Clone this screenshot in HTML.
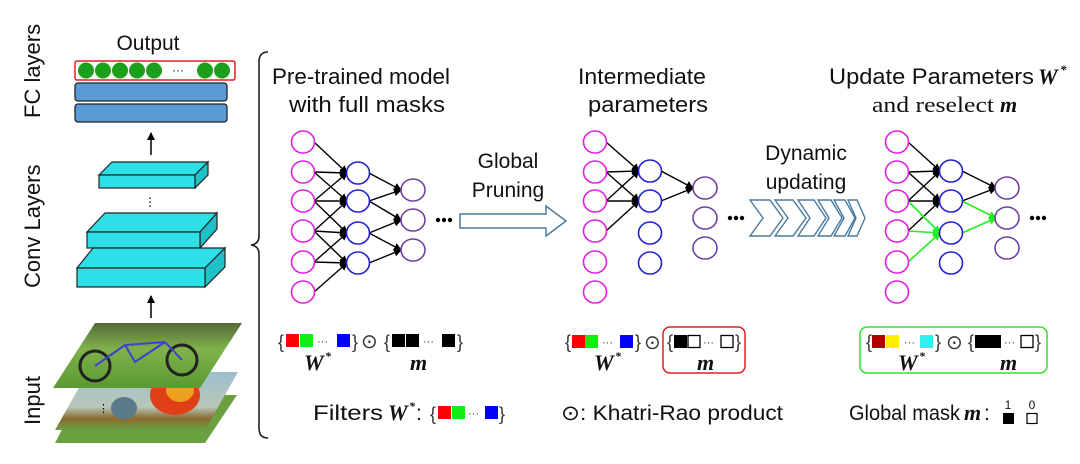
<!DOCTYPE html>
<html><head><meta charset="utf-8"><style>
html,body{margin:0;padding:0;background:#fff}
svg{display:block}
.s{font-family:"Liberation Sans Narrow","Liberation Sans",sans-serif;fill:#111}
.it{font-family:"Liberation Serif",serif;font-style:italic;font-weight:bold;fill:#111}
</style></head><body>
<svg width="1080" height="464" viewBox="0 0 1080 464" xmlns="http://www.w3.org/2000/svg">
<defs>
<marker id="ah" markerWidth="8" markerHeight="8" refX="7" refY="4" orient="auto" markerUnits="userSpaceOnUse"><path d="M0,0 L8,4 L0,8 z" fill="#000"/></marker>
<marker id="ag" markerWidth="8" markerHeight="8" refX="7" refY="4" orient="auto" markerUnits="userSpaceOnUse"><path d="M0,0 L8,4 L0,8 z" fill="#22ee22"/></marker>
<linearGradient id="g1" x1="0" y1="0" x2="0" y2="1"><stop offset="0" stop-color="#556b3a"/><stop offset="0.4" stop-color="#7fb24a"/><stop offset="1" stop-color="#5a9a30"/></linearGradient>
<linearGradient id="g2" x1="0" y1="0" x2="0" y2="1"><stop offset="0" stop-color="#9cc0cf"/><stop offset="0.6" stop-color="#b8c7b8"/><stop offset="0.8" stop-color="#8a6a30"/><stop offset="1" stop-color="#6aa040"/></linearGradient>
</defs>

<text class="s" font-size="22" transform="translate(40,118) rotate(-90)">FC layers</text>
<text class="s" font-size="22" transform="translate(40,288) rotate(-90)">Conv Layers</text>
<text class="s" font-size="22" transform="translate(40,425) rotate(-90)">Input</text>

<text class="s" font-size="21" x="148" y="50" text-anchor="middle">Output</text>
<rect x="75" y="61" width="160" height="19" rx="2" fill="#fff" stroke="#e02020" stroke-width="1.5"/>
<g fill="#1aa01a"><circle cx="86" cy="70.5" r="8"/><circle cx="103" cy="70.5" r="8"/><circle cx="120" cy="70.5" r="8"/><circle cx="137" cy="70.5" r="8"/><circle cx="154" cy="70.5" r="8"/><circle cx="205" cy="70.5" r="8"/><circle cx="222" cy="70.5" r="8"/></g>
<text x="178" y="74" font-size="12" font-family="Liberation Sans" text-anchor="middle">···</text>
<rect x="75" y="83" width="152" height="18" rx="3" fill="#5b9bd5" stroke="#222" stroke-width="1.3"/>
<rect x="75" y="104" width="152" height="18" rx="3" fill="#5b9bd5" stroke="#222" stroke-width="1.3"/>
<line x1="151" y1="155" x2="151" y2="133" stroke="#000" stroke-width="1.5" marker-end="url(#ah)"/>

<g fill="#2de0e8" stroke="#222" stroke-width="1.2">
<path d="M99,175 L112,162 L208,162 L195,175 z"/><path d="M195,175 L208,162 L208,175 L195,188 z" fill="#1fc0c8"/><rect x="99" y="175" width="96" height="13"/>
<path d="M87,232 L105,213 L217,213 L200,232 z"/><path d="M200,232 L217,213 L217,229 L200,248 z" fill="#1fc0c8"/><rect x="87" y="232" width="113" height="16"/>
<path d="M77,268 L93,248 L225,248 L205,268 z"/><path d="M205,268 L225,248 L225,267 L205,287 z" fill="#1fc0c8"/><rect x="77" y="268" width="128" height="19"/>
</g>
<text x="150" y="206" font-size="12" text-anchor="middle" font-family="Liberation Sans">⋮</text>
<line x1="151" y1="318" x2="151" y2="296" stroke="#000" stroke-width="1.5" marker-end="url(#ah)"/>

<path d="M55,443 L80,395 L237,395 L205,443 z" fill="#6aa040"/>
<path d="M55,430 L88,372 L238,372 L205,430 z" fill="url(#g2)"/>
<ellipse cx="175" cy="395" rx="25" ry="20" fill="#e04018"/><ellipse cx="180" cy="390" rx="14" ry="12" fill="#f0a020"/>
<ellipse cx="124" cy="408" rx="13" ry="11" fill="#5a7a8a"/>
<text x="98" y="412" font-size="11" font-family="Liberation Sans">⋮</text>
<path d="M53,388 L95,323 L242,323 L200,388 z" fill="url(#g1)"/>
<circle cx="95" cy="366" r="15" fill="none" stroke="#222" stroke-width="3"/>
<circle cx="182" cy="360" r="15" fill="none" stroke="#222" stroke-width="3"/>
<path d="M95,366 L125,345 L165,342 L182,360 M125,345 L135,362 L165,342" fill="none" stroke="#4040d0" stroke-width="2"/>

<path d="M268,52 Q259,52 259,62 L259,236 Q259,244 251,245 Q259,246 259,254 L259,428 Q259,438 268,438" fill="none" stroke="#222" stroke-width="1.6"/>

<text class="s" font-size="22" x="361" y="84" text-anchor="middle" textLength="178" lengthAdjust="spacingAndGlyphs">Pre-trained model</text>
<text class="s" font-size="22" x="367" y="112" text-anchor="middle" textLength="156" lengthAdjust="spacingAndGlyphs">with full masks</text>
<text class="s" font-size="22" x="642" y="84" text-anchor="middle" textLength="128" lengthAdjust="spacingAndGlyphs">Intermediate</text>
<text class="s" font-size="22" x="648" y="112" text-anchor="middle" textLength="120" lengthAdjust="spacingAndGlyphs">parameters</text>
<text class="s" font-size="22" x="829" y="84" textLength="205" lengthAdjust="spacingAndGlyphs">Update Parameters</text>
<text class="it" font-size="22" x="1038" y="84">W</text><text class="it" font-size="13" x="1060" y="74">*</text>
<text font-family="Liberation Serif" font-size="22" x="872" y="112" fill="#111" textLength="122" lengthAdjust="spacingAndGlyphs">and reselect</text>
<text class="it" font-size="22" x="1000" y="112">m</text>

<text class="s" font-size="21" x="508" y="168" text-anchor="middle">Global</text>
<text class="s" font-size="21" x="508" y="197" text-anchor="middle">Pruning</text>
<path d="M460,214 L546,214 L546,206 L566,221 L546,236 L546,228 L460,228 z" fill="#fff" stroke="#4a7aa0" stroke-width="1.5"/>

<text class="s" font-size="21" x="806" y="160" text-anchor="middle">Dynamic</text>
<text class="s" font-size="21" x="806" y="189" text-anchor="middle">updating</text>
<g fill="#fff" stroke="#4a7aa0" stroke-width="1.4">
<path d="M750,200 L770,200 L783,218 L770,236 L750,236 L763,218 z"/>
<path d="M775,200 L793,200 L806,218 L793,236 L775,236 L788,218 z"/>
<path d="M798,200 L814,200 L826,218 L814,236 L798,236 L810,218 z"/>
<path d="M818,200 L831,200 L842,218 L831,236 L818,236 L829,218 z"/>
<path d="M834,200 L845,200 L855,218 L845,236 L834,236 L844,218 z"/>
<path d="M848,200 L857,200 L865,218 L857,236 L848,236 L856,218 z"/>
</g>

<g fill="none" stroke-width="1.6">
<g stroke="#000" stroke-width="1.4">
<line x1="314" y1="142" x2="347" y2="173" marker-end="url(#ah)"/>
<line x1="314" y1="172" x2="347" y2="173" marker-end="url(#ah)"/>
<line x1="314" y1="172" x2="347" y2="201" marker-end="url(#ah)"/>
<line x1="314" y1="201" x2="347" y2="173" marker-end="url(#ah)"/>
<line x1="314" y1="201" x2="347" y2="201" marker-end="url(#ah)"/>
<line x1="314" y1="201" x2="347" y2="233" marker-end="url(#ah)"/>
<line x1="314" y1="231" x2="347" y2="201" marker-end="url(#ah)"/>
<line x1="314" y1="231" x2="347" y2="233" marker-end="url(#ah)"/>
<line x1="314" y1="231" x2="347" y2="263" marker-end="url(#ah)"/>
<line x1="314" y1="262" x2="347" y2="233" marker-end="url(#ah)"/>
<line x1="314" y1="262" x2="347" y2="263" marker-end="url(#ah)"/>
<line x1="314" y1="292" x2="347" y2="263" marker-end="url(#ah)"/>
<line x1="369" y1="173" x2="401" y2="190" marker-end="url(#ah)"/>
<line x1="369" y1="201" x2="401" y2="190" marker-end="url(#ah)"/>
<line x1="369" y1="201" x2="401" y2="220" marker-end="url(#ah)"/>
<line x1="369" y1="233" x2="401" y2="220" marker-end="url(#ah)"/>
<line x1="369" y1="233" x2="401" y2="250" marker-end="url(#ah)"/>
<line x1="369" y1="263" x2="401" y2="250" marker-end="url(#ah)"/>
<line x1="606" y1="142" x2="639" y2="171" marker-end="url(#ah)"/>
<line x1="606" y1="172" x2="639" y2="171" marker-end="url(#ah)"/>
<line x1="606" y1="172" x2="639" y2="201" marker-end="url(#ah)"/>
<line x1="606" y1="201" x2="639" y2="171" marker-end="url(#ah)"/>
<line x1="606" y1="201" x2="639" y2="201" marker-end="url(#ah)"/>
<line x1="606" y1="231" x2="639" y2="201" marker-end="url(#ah)"/>
<line x1="661" y1="171" x2="693" y2="188" marker-end="url(#ah)"/>
<line x1="661" y1="201" x2="693" y2="188" marker-end="url(#ah)"/>
<line x1="908" y1="142" x2="940" y2="171" marker-end="url(#ah)"/>
<line x1="908" y1="172" x2="940" y2="171" marker-end="url(#ah)"/>
<line x1="908" y1="172" x2="940" y2="201" marker-end="url(#ah)"/>
<line x1="908" y1="201" x2="940" y2="171" marker-end="url(#ah)"/>
<line x1="908" y1="201" x2="940" y2="201" marker-end="url(#ah)"/>
<line x1="908" y1="231" x2="940" y2="201" marker-end="url(#ah)"/>
<line x1="962" y1="171" x2="996" y2="188" marker-end="url(#ah)"/>
<line x1="962" y1="201" x2="996" y2="188" marker-end="url(#ah)"/>
</g>
<g stroke="#22ee22" stroke-width="1.6">
<line x1="908" y1="201" x2="940" y2="233" marker-end="url(#ag)"/>
<line x1="908" y1="231" x2="940" y2="233" marker-end="url(#ag)"/>
<line x1="908" y1="262" x2="940" y2="233" marker-end="url(#ag)"/>
<line x1="962" y1="201" x2="996" y2="218" marker-end="url(#ag)"/>
<line x1="962" y1="233" x2="996" y2="218" marker-end="url(#ag)"/>
</g>
<g stroke="#e020e0" fill="#fff">
<ellipse cx="303" cy="142" rx="11.5" ry="11"/><ellipse cx="303" cy="172" rx="11.5" ry="11"/><ellipse cx="303" cy="201" rx="11.5" ry="11"/><ellipse cx="303" cy="231" rx="11.5" ry="11"/><ellipse cx="303" cy="262" rx="11.5" ry="11"/><ellipse cx="303" cy="292" rx="11.5" ry="11"/>
<ellipse cx="595" cy="142" rx="11.5" ry="11"/><ellipse cx="595" cy="172" rx="11.5" ry="11"/><ellipse cx="595" cy="201" rx="11.5" ry="11"/><ellipse cx="595" cy="231" rx="11.5" ry="11"/><ellipse cx="595" cy="262" rx="11.5" ry="11"/><ellipse cx="595" cy="292" rx="11.5" ry="11"/>
<ellipse cx="897" cy="142" rx="11.5" ry="11"/><ellipse cx="897" cy="172" rx="11.5" ry="11"/><ellipse cx="897" cy="201" rx="11.5" ry="11"/><ellipse cx="897" cy="231" rx="11.5" ry="11"/><ellipse cx="897" cy="262" rx="11.5" ry="11"/><ellipse cx="897" cy="292" rx="11.5" ry="11"/>
</g>
<g stroke="#2020d0" fill="#fff">
<ellipse cx="358" cy="173" rx="11.5" ry="11"/><ellipse cx="358" cy="201" rx="11.5" ry="11"/><ellipse cx="358" cy="233" rx="11.5" ry="11"/><ellipse cx="358" cy="263" rx="11.5" ry="11"/>
<ellipse cx="650" cy="171" rx="11.5" ry="11"/><ellipse cx="650" cy="201" rx="11.5" ry="11"/><ellipse cx="650" cy="233" rx="11.5" ry="11"/><ellipse cx="650" cy="263" rx="11.5" ry="11"/>
<ellipse cx="951" cy="171" rx="11.5" ry="11"/><ellipse cx="951" cy="201" rx="11.5" ry="11"/><ellipse cx="951" cy="233" rx="11.5" ry="11"/><ellipse cx="951" cy="263" rx="11.5" ry="11"/>
</g>
<g stroke="#7040a0" fill="#fff">
<ellipse cx="413" cy="190" rx="12" ry="11"/><ellipse cx="413" cy="220" rx="12" ry="11"/><ellipse cx="413" cy="250" rx="12" ry="11"/>
<ellipse cx="705" cy="188" rx="12" ry="11"/><ellipse cx="705" cy="218" rx="12" ry="11"/><ellipse cx="705" cy="248" rx="12" ry="11"/>
<ellipse cx="1007" cy="188" rx="12" ry="11"/><ellipse cx="1007" cy="218" rx="12" ry="11"/><ellipse cx="1007" cy="248" rx="12" ry="11"/>
</g>
</g>
<g fill="#000"><circle cx="438" cy="220" r="2.2"/><circle cx="444" cy="220" r="2.2"/><circle cx="450" cy="220" r="2.2"/>
<circle cx="730" cy="218" r="2.2"/><circle cx="736" cy="218" r="2.2"/><circle cx="742" cy="218" r="2.2"/>
<circle cx="1032" cy="218" r="2.2"/><circle cx="1038" cy="218" r="2.2"/><circle cx="1044" cy="218" r="2.2"/></g>

<g font-family="Liberation Sans" font-size="18" fill="#333">
<text x="278" y="348">{</text><rect x="286" y="334" width="13" height="13" fill="#f00"/><rect x="300" y="334" width="13" height="13" fill="#1e1"/><text x="317" y="345" font-size="11">···</text><rect x="337" y="334" width="13" height="13" fill="#00f"/><text x="352" y="348">}</text>
<text x="361" y="348" font-size="20">⊙</text>
<text x="384" y="348">{</text><rect x="392" y="334" width="13" height="13" fill="#000"/><rect x="406" y="334" width="13" height="13" fill="#000"/><text x="423" y="345" font-size="11">···</text><rect x="442" y="334" width="13" height="13" fill="#000"/><text x="457" y="348">}</text>
<text x="565" y="348">{</text><rect x="572" y="335" width="13" height="13" fill="#f00"/><rect x="585" y="335" width="13" height="13" fill="#1e1"/><text x="602" y="346" font-size="11">···</text><rect x="620" y="335" width="13" height="13" fill="#00f"/><text x="635" y="348">}</text>
<text x="644" y="349" font-size="20">⊙</text>
<rect x="663" y="327" width="82" height="46" rx="7" fill="none" stroke="#e02020" stroke-width="1.5"/>
<text x="667" y="348">{</text><rect x="674" y="335" width="13" height="13" fill="#000"/><rect x="688" y="335.5" width="12" height="12" fill="none" stroke="#000" stroke-width="1.3"/><text x="703" y="346" font-size="11">···</text><rect x="721" y="335.5" width="12" height="12" fill="none" stroke="#000" stroke-width="1.3"/><text x="735" y="348">}</text>
<rect x="860" y="327" width="187" height="46" rx="7" fill="none" stroke="#33e033" stroke-width="1.5"/>
<text x="866" y="348">{</text><rect x="872" y="335" width="13" height="13" fill="#b00000"/><rect x="886" y="335" width="13" height="13" fill="#ffee00"/><text x="904" y="346" font-size="11">···</text><rect x="920" y="335" width="13" height="13" fill="#33eeee"/><text x="935" y="348">}</text>
<text x="946" y="349" font-size="20">⊙</text>
<text x="968" y="348">{</text><rect x="975" y="335" width="13" height="13" fill="#000"/><rect x="988" y="335" width="13" height="13" fill="#000"/><text x="1004" y="346" font-size="11">···</text><rect x="1021" y="335.5" width="12" height="12" fill="none" stroke="#000" stroke-width="1.3"/><text x="1035" y="348">}</text>
</g>
<text class="it" font-size="22" x="304" y="370">W</text><text class="it" font-size="12" x="325" y="360">*</text>
<text class="it" font-size="22" x="410" y="370">m</text>
<text class="it" font-size="22" x="594" y="370">W</text><text class="it" font-size="12" x="615" y="360">*</text>
<text class="it" font-size="22" x="697" y="370">m</text>
<text class="it" font-size="22" x="898" y="370">W</text><text class="it" font-size="12" x="919" y="360">*</text>
<text class="it" font-size="22" x="1000" y="370">m</text>

<text class="s" font-size="21" x="313" y="420" textLength="70" lengthAdjust="spacingAndGlyphs">Filters</text>
<text class="it" font-size="22" x="388" y="420">W</text><text class="it" font-size="12" x="409" y="410">*</text><text class="s" font-size="21" x="416" y="420">:</text>
<g font-family="Liberation Sans" font-size="18" fill="#333">
<text x="430" y="420">{</text><rect x="438" y="406" width="13" height="13" fill="#f00"/><rect x="452" y="406" width="13" height="13" fill="#1e1"/><text x="468" y="417" font-size="11">···</text><rect x="485" y="406" width="13" height="13" fill="#00f"/><text x="499" y="420">}</text>
</g>
<text class="s" font-size="21" x="561" y="420" textLength="222" lengthAdjust="spacingAndGlyphs">⊙: Khatri-Rao product</text>
<text class="s" font-size="21" x="849" y="420" textLength="111" lengthAdjust="spacingAndGlyphs">Global mask</text>
<text class="it" font-size="22" x="964" y="420">m</text><text class="s" font-size="21" x="984" y="420">:</text>
<text class="s" font-size="12" x="1008" y="409" text-anchor="middle">1</text><rect x="1003" y="413" width="11" height="11" fill="#000"/>
<text class="s" font-size="12" x="1032" y="409" text-anchor="middle">0</text><rect x="1027" y="413.5" width="10" height="10" fill="none" stroke="#000" stroke-width="1.2"/>
</svg>
</body></html>
